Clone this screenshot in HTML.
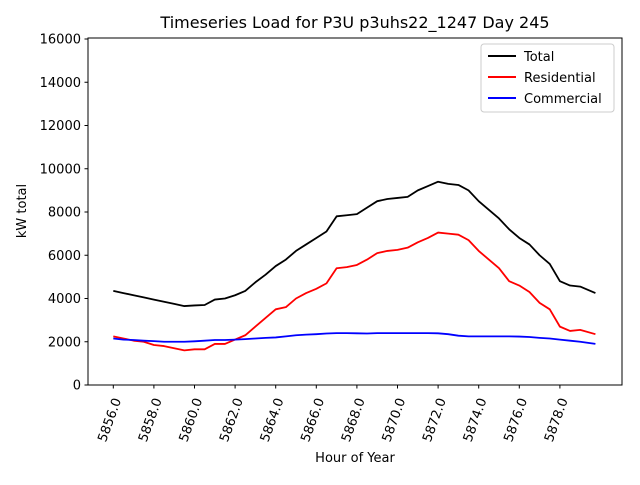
<!DOCTYPE html>
<html><head><meta charset="utf-8"><style>body{margin:0;background:#fff}svg{font-family:"DejaVu Sans","Liberation Sans",sans-serif}</style></head>
<body>
<svg id="chart" width="640" height="480" xmlns="http://www.w3.org/2000/svg">
<rect width="640" height="480" fill="#fff"/>
<text x="355" y="28" font-size="16" text-anchor="middle">Timeseries Load for P3U p3uhs22_1247  Day 245</text>
<g id="plot"></g>
<rect x="88" y="38" width="534" height="347" fill="none" stroke="#000" stroke-width="1"/>
<text transform="translate(26,211) rotate(-90)" font-size="13" text-anchor="middle">kW total</text>
<text x="355" y="462" font-size="13" text-anchor="middle">Hour of Year</text>
<g>
<rect x="481" y="44" width="133" height="68" fill="#fff" stroke="#ccc" rx="3"/>
<line x1="488" y1="56" x2="516" y2="56" stroke="#000" stroke-width="2"/><text x="524" y="61" font-size="13">Total</text>
<line x1="488" y1="77" x2="516" y2="77" stroke="#f00" stroke-width="2"/><text x="524" y="82" font-size="13">Residential</text>
<line x1="488" y1="98" x2="516" y2="98" stroke="#00f" stroke-width="2"/><text x="524" y="103" font-size="13">Commercial</text>
</g>
</svg>
<script>
const hours=[5856,5856.5,5857,5857.5,5858,5858.5,5859,5859.5,5860,5860.5,5861,5861.5,5862,5862.5,5863,5863.5,5864,5864.5,5865,5865.5,5866,5866.5,5867,5867.5,5868,5868.5,5869,5869.5,5870,5870.5,5871,5871.5,5872,5872.5,5873,5873.5,5874,5874.5,5875,5875.5,5876,5876.5,5877,5877.5,5878,5878.5,5879,5879.75];
const totalLoad=[4350,4250,4150,4050,3950,3850,3750,3650,3680,3700,3950,4000,4150,4350,4750,5100,5500,5800,6200,6500,6800,7100,7800,7850,7900,8200,8500,8600,8650,8700,9000,9200,9400,9300,9250,9000,8500,8100,7700,7200,6800,6500,6000,5600,4800,4600,4550,4250];
const residentialLoad=[2250,2150,2050,2000,1850,1800,1700,1600,1650,1650,1900,1900,2100,2300,2700,3100,3500,3600,4000,4250,4450,4700,5400,5450,5550,5800,6100,6200,6250,6350,6600,6800,7050,7000,6950,6700,6200,5800,5400,4800,4600,4300,3800,3500,2700,2500,2550,2350];
const commercialLoad=[2150,2100,2080,2050,2030,2000,2000,2000,2020,2050,2080,2080,2100,2120,2150,2180,2200,2250,2300,2330,2350,2380,2400,2400,2390,2380,2400,2400,2400,2400,2400,2400,2390,2350,2280,2250,2250,2250,2250,2250,2240,2220,2180,2150,2100,2050,2000,1900];
const yTicks=[0,2000,4000,6000,8000,10000,12000,14000,16000];
const xTicks=[5856,5858,5860,5862,5864,5866,5868,5870,5872,5874,5876,5878];
const X=h=>113.3+(h-5856)*20.3;
const Y=v=>385-v*(346/16000);
const g=document.getElementById('plot');
const NS='http://www.w3.org/2000/svg';
function mk(t,a){const e=document.createElementNS(NS,t);for(const k in a)e.setAttribute(k,a[k]);g.appendChild(e);return e;}
yTicks.forEach(v=>{
 const l=mk('line',{x1:84.5,x2:88,y1:Y(v),y2:Y(v),stroke:'#000'});
 
 
 const t=mk('text',{x:81,y:Y(v)+4.5,'font-size':13,'text-anchor':'end'});
 
 
 t.textContent=v;
});
xTicks.forEach(h=>{
 const l=mk('line',{x1:X(h),x2:X(h),y1:385,y2:388.5,stroke:'#000'});
 
 
 const t=mk('text',{transform:`translate(${X(h)+8},${400}) rotate(-70)`,'font-size':13,'text-anchor':'end'});
 
 
 t.textContent=h.toFixed(1);
});
function series(vals,color,name){
 const p=mk('polyline',{points:vals.map((v,i)=>X(hours[i])+','+Y(v)).join(' '),fill:'none',stroke:color,'stroke-width':1.8,'stroke-linejoin':'round'});
 
 
}
series(totalLoad,'#000','total-line');
series(residentialLoad,'#f00','residential-line');
series(commercialLoad,'#00f','commercial-line');
</script>
</body></html>
